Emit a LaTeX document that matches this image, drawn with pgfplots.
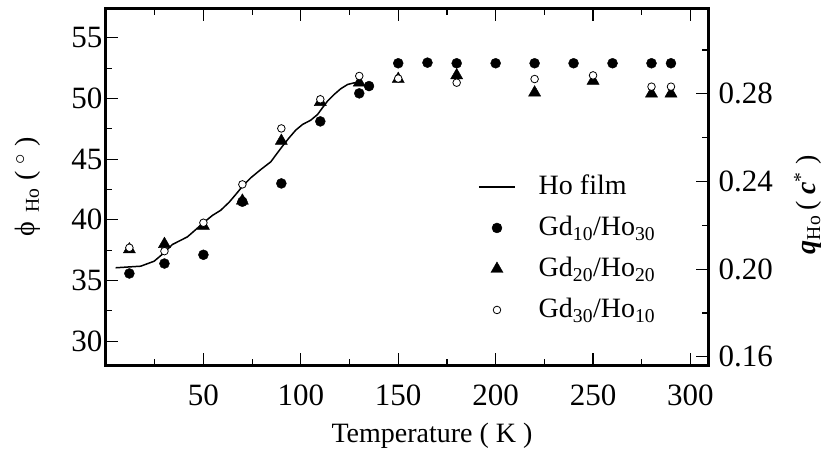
\documentclass[border=0pt]{standalone}
\usepackage{fontspec}
\setmainfont{Liberation Serif}
\usepackage{pgfplots}
\pgfplotsset{compat=1.18}
\pgfplotsset{
  myline legend/.style={legend image code/.code={\draw[##1] (0bp,0bp) -- (36bp,0bp);}},
  mymark legend/.style={legend image code/.code={\draw[##1,mark repeat=2,mark phase=2] plot coordinates {(0bp,0bp)(18bp,0bp)(36bp,0bp)};}},
}

\begin{document}
\begin{tikzpicture}
\useasboundingbox (-106bp,-88bp) rectangle (721bp,365bp);
\begin{axis}[
  at={(0,0)}, anchor=south west,
  scale only axis, width=602bp, height=356bp,
  xmin=0, xmax=309, ymin=28.04, ymax=57.37,
  xtick={50,100,...,300}, minor xtick={25,75,...,300},
  ytick={30,35,...,55}, minor ytick={32.5,37.5,...,57.5},
  ytick pos=left,
  tick align=inside,
  major tick length=12bp, minor tick length=6bp,
  every tick/.style={black, line width=1.2bp},
  axis line style={line width=3bp},
  /pgf/number format/assume math mode=true,
  tick label style={font=\fontsize{31bp}{36bp}\selectfont},
  xticklabel style={yshift=-16bp},
  xlabel={Temperature ( K )},
  xlabel style={at={(axis description cs:0.5415,-0.2),}, anchor=center, font=\fontsize{28bp}{34bp}\selectfont},
  ylabel={ϕ\,\,\textsubscript{Ho} ( \textsuperscript{$\circ$} )},
  ylabel style={at={(axis description cs:-0.13,0.5)}, anchor=center, font=\fontsize{28bp}{34bp}\selectfont},
  legend style={at={(axis description cs:0.618,0.54)}, anchor=north west,
    draw=none, fill=none, inner sep=0pt, row sep=13bp, column sep=23bp,
    font=\fontsize{28bp}{34bp}\selectfont, cells={anchor=west},
    nodes={inner sep=0pt, text height=22bp, text depth=6bp}},
]
\addplot[black, line width=1.5bp, no marks, myline legend]
  coordinates {
(4.98,36.05) (17.8,36.18) (24.7,36.59) (29.8,37.28) (34.1,37.97) (38.4,38.32)
(41.8,38.60) (46.1,39.20) (50.4,39.81) (54.6,40.36) (58.9,40.79) (63.2,41.45)
(66.6,42.09) (70.1,42.77) (74.3,43.46) (79.5,44.15) (84.6,44.78) (88.0,45.52)
(90.6,46.07) (94.0,46.76) (97.4,47.39) (100.9,47.86) (105.1,48.21) (108.6,48.68)
(111.1,49.23) (113.7,49.78) (117.1,50.33) (120.5,50.80) (124.0,51.15) (127.4,51.29)
(131.7,51.34)
};
\addlegendentry{Ho film}
\addplot[only marks, mark=*, mark size=5bp, black, mark options={fill=black}, mymark legend]
  coordinates {
(12,35.58) (30,36.40) (50,37.12) (70,41.49) (90,43.0) (110,48.11) (130,50.42)
(135,51.02) (150,52.9) (165,52.95) (180,52.9) (200,52.9) (220,52.9) (240,52.9)
(260,52.9) (280,52.9) (290,52.9)
};
\addlegendentry{Gd\textsubscript{10}/Ho\textsubscript{30}}
\addplot[only marks, mark=triangle*, mark size=7bp, black, mark options={fill=black}, mymark legend]
  coordinates {
(12,37.56) (30,38.0) (50,39.5) (70,41.57) (90,46.5) (110,49.7) (130,51.3)
(150,51.6) (180,51.9) (220,50.48) (250,51.45) (280,50.4) (290,50.4)
};
\addlegendentry{Gd\textsubscript{20}/Ho\textsubscript{20}}
\addplot[only marks, mark=*, mark size=3.8bp, black, mark options={fill=white, line width=0.8bp}, mymark legend]
  coordinates {
(12,37.7) (30,37.42) (50,39.76) (70,42.92) (90,47.53) (110,49.93) (130,51.85)
(150,51.64) (180,51.3) (220,51.6) (250,51.9) (280,50.97) (290,50.97)
};
\addlegendentry{Gd\textsubscript{30}/Ho\textsubscript{10}}
\end{axis}
\begin{axis}[
  at={(0,0)}, anchor=south west,
  scale only axis, width=602bp, height=356bp,
  xmin=0, xmax=309, ymin=0.15626, ymax=0.31869,
  hide x axis, axis y line*=right,
  ytick={0.16,0.20,0.24,0.28}, minor ytick={0.18,0.22,0.26,0.30},
  tick align=inside,
  major tick length=12bp, minor tick length=6bp,
  every tick/.style={black, line width=1.2bp},
  axis line style={line width=3bp},
  /pgf/number format/assume math mode=true,
  yticklabel style={font=\fontsize{31bp}{36bp}\selectfont, xshift=7bp, /pgf/number format/.cd, fixed, fixed zerofill, precision=2},
  ylabel={\textbf{\textit{q}}\textsubscript{Ho}\,( \textbf{\textit{c}}\textsuperscript{*} )},
  ylabel style={at={(axis description cs:1.166,0.45)}, anchor=center, font=\fontsize{28bp}{34bp}\selectfont},
]
\end{axis}
\end{tikzpicture}
\end{document}
